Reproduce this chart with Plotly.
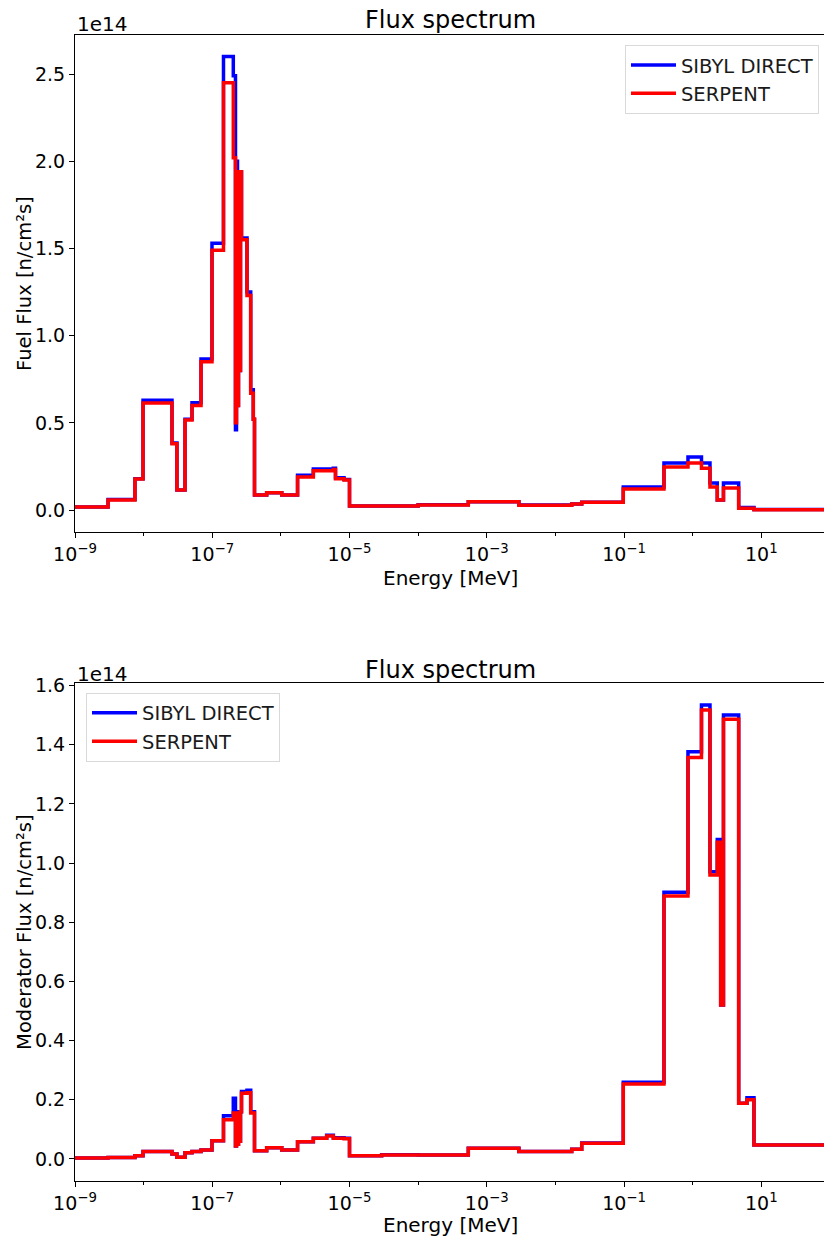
import plotly.graph_objects as go

# Energy group boundaries [MeV] (shared by all series)
energy_bounds = [
    1e-10, 3.03e-9, 7.48e-9, 9.8e-9, 2.59e-8, 3.06e-8, 4.01e-8, 5.07e-8, 6.86e-8, 9.91e-8,
    1.458e-7, 2.026e-7, 2.18e-7, 2.255e-7, 2.332e-7, 2.411e-7, 2.494e-7, 2.579e-7, 2.667e-7,
    3.208e-7, 3.632e-7, 3.963e-7, 4.126e-7, 6.21e-7, 1.03e-6, 1.75e-6, 2.97e-6, 4.65e-6,
    5.81e-6, 6.25e-6, 8.32e-6, 1.0e-5, 2.94e-5, 1.0e-4, 5.38e-4, 2.94e-3, 1.73e-2, 2.42e-2,
    0.0975, 0.382, 0.855, 1.345, 1.788, 2.285, 2.561, 2.813, 4.686, 6.19, 7.83, 200.0,
]

# Fuel flux [1e14 n/cm2s]
fuel_sibyl = [
    0.017, 0.060, 0.180, 0.630, 0.385, 0.115, 0.520, 0.615, 0.866, 1.530,
    2.600, 2.490, 0.460, 2.000, 0.600, 1.940, 0.800, 1.940, 1.560,
    1.250, 0.690, 0.520, 0.086, 0.099, 0.086, 0.200, 0.235, 0.235,
    0.240, 0.185, 0.175, 0.023, 0.023, 0.030, 0.048, 0.029, 0.034, 0.045,
    0.132, 0.270, 0.304, 0.270, 0.155, 0.057, 0.057, 0.155, 0.015, 0.015, 0.003,
]
fuel_serpent = [
    0.017, 0.057, 0.178, 0.614, 0.380, 0.115, 0.516, 0.600, 0.850, 1.490,
    2.450, 2.020, 0.500, 1.940, 0.600, 1.940, 0.800, 1.940, 1.550,
    1.230, 0.670, 0.520, 0.086, 0.099, 0.086, 0.190, 0.225, 0.225,
    0.233, 0.180, 0.172, 0.023, 0.023, 0.029, 0.047, 0.028, 0.034, 0.045,
    0.120, 0.247, 0.270, 0.240, 0.132, 0.057, 0.057, 0.126, 0.011, 0.011, 0.002,
]

# Moderator flux [1e14 n/cm2s]
mod_sibyl = [
    0.003, 0.005, 0.011, 0.025, 0.017, 0.006, 0.021, 0.025, 0.030, 0.062,
    0.146, 0.205, 0.044, 0.160, 0.050, 0.155, 0.060, 0.160, 0.228,
    0.232, 0.160, 0.160, 0.028, 0.038, 0.030, 0.058, 0.070, 0.080,
    0.072, 0.072, 0.070, 0.011, 0.0145, 0.0135, 0.036, 0.025, 0.033, 0.054,
    0.259, 0.901, 1.376, 1.534, 0.971, 1.080, 0.520, 1.500, 0.188, 0.207, 0.047,
]
mod_serpent = [
    0.003, 0.005, 0.011, 0.025, 0.017, 0.006, 0.021, 0.025, 0.030, 0.062,
    0.133, 0.155, 0.044, 0.155, 0.050, 0.155, 0.060, 0.160, 0.222,
    0.224, 0.155, 0.155, 0.028, 0.038, 0.030, 0.058, 0.070, 0.078,
    0.070, 0.070, 0.068, 0.011, 0.0135, 0.0135, 0.036, 0.025, 0.033, 0.053,
    0.253, 0.889, 1.357, 1.517, 0.960, 1.070, 0.520, 1.486, 0.188, 0.200, 0.047,
]

xtick_vals = [1e-9, 1e-7, 1e-5, 1e-3, 1e-1, 1e1]
xtick_text = ["10<sup>\u22129</sup>", "10<sup>\u22127</sup>", "10<sup>\u22125</sup>",
              "10<sup>\u22123</sup>", "10<sup>\u22121</sup>", "10<sup>1</sup>"]
xminor_vals = [1e-8, 1e-6, 1e-4, 1e-2, 1e0]

FONT = "DejaVu Sans"


def step_y(vals):
    return list(vals) + [vals[-1]]


fig = go.Figure()
series = [
    (fuel_sibyl, "SIBYL DIRECT", "blue", "x", "y", "legend"),
    (fuel_serpent, "SERPENT", "red", "x", "y", "legend"),
    (mod_sibyl, "SIBYL DIRECT", "blue", "x2", "y2", "legend2"),
    (mod_serpent, "SERPENT", "red", "x2", "y2", "legend2"),
]
for vals, name, color, xa, ya, leg in series:
    fig.add_trace(go.Scatter(
        x=energy_bounds, y=step_y(vals), mode="lines", line_shape="hv",
        line=dict(color=color, width=3.5), name=name, xaxis=xa, yaxis=ya,
        legend=leg, showlegend=True,
    ))

axis_common = dict(
    showline=True, linecolor="black", linewidth=1, ticks="outside", ticklen=5,
    tickwidth=1, tickcolor="black", showgrid=False, zeroline=False,
    tickfont=dict(family=FONT, size=19, color="black"),
)
xaxis_common = dict(
    type="log", range=[-9, 1.914], tickvals=xtick_vals, ticktext=xtick_text,
    mirror=True,
    minor=dict(tickvals=xminor_vals, ticks="outside", ticklen=3, tickcolor="black"),
    **axis_common,
)

top_lo, top_hi = -0.126, 2.724
bot_lo, bot_hi = -0.0744, 1.6087

legend_style = dict(bgcolor="white", bordercolor="#d9d9d9", borderwidth=1,
                    font=dict(family=FONT, size=19.5, color="#1a1a1a"),
                    itemwidth=45)

fig.update_layout(
    width=824, height=1236,
    margin=dict(l=75, r=0, t=35, b=55),
    paper_bgcolor="white", plot_bgcolor="white",
    font=dict(family=FONT, size=19, color="black"),
    xaxis=dict(domain=[0, 1], anchor="y", **xaxis_common),
    yaxis=dict(domain=[0.5663, 1], anchor="x", range=[top_lo, top_hi],
               tickvals=[0, 0.5, 1.0, 1.5, 2.0, 2.5], tickformat=".1f", mirror=False,
               **axis_common),
    xaxis2=dict(domain=[0, 1], anchor="y2", **xaxis_common),
    yaxis2=dict(domain=[0, 0.4346], anchor="x2", range=[bot_lo, bot_hi],
                tickvals=[0, 0.2, 0.4, 0.6, 0.8, 1.0, 1.2, 1.4, 1.6], tickformat=".1f",
                mirror=False, **axis_common),
    legend=dict(x=0.9933, y=0.9915, xanchor="right", yanchor="top", **legend_style),
    legend2=dict(x=0.0147, y=0.4261, xanchor="left", yanchor="top", **legend_style),
)

ann = [
    dict(text="Flux spectrum", x=0.5007, y=1.0131, size=24),
    dict(text="Flux spectrum", x=0.5007, y=0.4459, size=24),
    dict(text="Energy [MeV]", x=0.5007, y=0.5262, size=20),
    dict(text="Energy [MeV]", x=0.5007, y=-0.0384, size=20),
]
for a in ann:
    fig.add_annotation(text=a["text"], x=a["x"], y=a["y"], xref="paper", yref="paper",
                       xanchor="center", yanchor="middle", showarrow=False,
                       font=dict(family=FONT, size=a["size"], color="black"))

for txt, yy in [("Fuel Flux [n/cm\u00b2s]", 0.7836), ("Moderator Flux [n/cm\u00b2s]", 0.2173)]:
    fig.add_annotation(text=txt, x=-0.0668, y=yy, xref="paper", yref="paper",
                       xanchor="center", yanchor="middle", textangle=-90, showarrow=False,
                       font=dict(family=FONT, size=19.5, color="black"))

for yy in [1.0096, 0.4424]:
    fig.add_annotation(text="1e14", x=0.0, y=yy, xref="paper", yref="paper",
                       xanchor="left", yanchor="middle", showarrow=False,
                       font=dict(family=FONT, size=20, color="black"))

fig.write_html("out.html")
